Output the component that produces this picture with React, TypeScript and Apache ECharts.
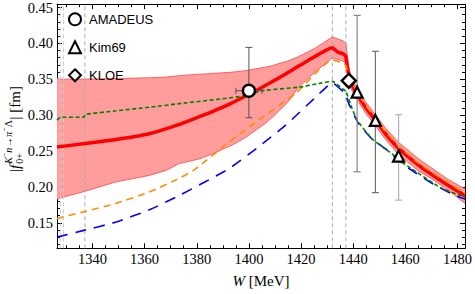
import React, { useEffect, useRef } from 'react';
import * as echarts from 'echarts';

// ---------- axis ranges & ticks ----------
const X_MIN = 1326.4;
const X_MAX = 1482.9;
const Y_MIN = 0.1144;
const Y_MAX = 0.4547;
const xMajor = [1340, 1360, 1380, 1400, 1420, 1440, 1460, 1480];
const xMinor = [1330, 1335, 1345, 1350, 1355, 1365, 1370, 1375, 1385, 1390, 1395, 1405, 1410, 1415, 1425, 1430, 1435, 1445, 1450, 1455, 1465, 1470, 1475];
const yMajor = [0.15, 0.2, 0.25, 0.3, 0.35, 0.4, 0.45];
const yMinor = [0.12, 0.13, 0.14, 0.16, 0.17, 0.18, 0.19, 0.21, 0.22, 0.23, 0.24, 0.26, 0.27, 0.28, 0.29, 0.31, 0.32, 0.33, 0.34, 0.36, 0.37, 0.38, 0.39, 0.41, 0.42, 0.43, 0.44];
const yLabels = ['0.15', '0.20', '0.25', '0.30', '0.35', '0.40', '0.45'];
const xLabels = ['1340', '1360', '1380', '1400', '1420', '1440', '1460', '1480'];

// thresholds (vertical dashed lines)
const thresholds = [1327.7, 1328.9, 1337.1, 1432.0, 1437.2];
const thresholdColors = ['#cccccc', '#cccccc', '#aaaaaa', '#aaaaaa', '#aaaaaa'];

// ---------- curves ----------
const redW = [1326.4, 1336.3, 1349.1, 1361.8, 1373.3, 1381, 1386, 1393, 1400, 1407.7, 1416.5, 1424, 1432, 1434, 1436.4, 1437.2, 1437.7, 1438.3, 1439, 1441.4, 1444.7, 1448.6, 1452.4, 1457.4, 1465.1, 1474.6, 1482.9];
const redV = [0.2556, 0.26, 0.266, 0.274, 0.287, 0.298, 0.305, 0.316, 0.329, 0.344, 0.3625, 0.379, 0.394, 0.388, 0.385, 0.381, 0.367, 0.357, 0.346, 0.33, 0.311, 0.2926, 0.274, 0.2538, 0.2301, 0.2065, 0.1878];

const bandW = [1326.4, 1328, 1336.3, 1349.1, 1361.8, 1368.2, 1373.3, 1381, 1386, 1394, 1398.8, 1406.5, 1409, 1415.4, 1418.7, 1425.3, 1432, 1436.4, 1437.2, 1438.3, 1439, 1441.4, 1444.7, 1448.6, 1452.4, 1457.4, 1465.1, 1470.2, 1476.6, 1482.9];
const bandHi = [0.351, 0.35, 0.35, 0.351, 0.352, 0.353, 0.355, 0.357, 0.358, 0.36, 0.362, 0.367, 0.369, 0.376, 0.381, 0.393, 0.409, 0.403, 0.4, 0.368, 0.355, 0.338, 0.319, 0.3, 0.282, 0.262, 0.239, 0.226, 0.21, 0.197];
const bandLo = [0.183, 0.185, 0.193, 0.207, 0.216, 0.223, 0.2325, 0.239, 0.246, 0.259, 0.269, 0.289, 0.297, 0.32, 0.337, 0.36, 0.38, 0.375, 0.371, 0.348, 0.338, 0.322, 0.303, 0.285, 0.266, 0.245, 0.222, 0.211, 0.195, 0.177];

const orangeW = [1326.4, 1336.3, 1349.1, 1361.8, 1373.3, 1379.7, 1392.4, 1405.2, 1417.9, 1432, 1436.4, 1437.2, 1438.3, 1441.4, 1444.7, 1448.6, 1452.4, 1457.4, 1465.1, 1474.6, 1482.9];
const orangeV = [0.156, 0.165, 0.177, 0.193, 0.212, 0.2255, 0.2625, 0.297, 0.33, 0.377, 0.372, 0.369, 0.355, 0.333, 0.314, 0.296, 0.277, 0.257, 0.233, 0.21, 0.191];

const blueW = [1326.4, 1336.3, 1349.1, 1361.8, 1373.3, 1392.4, 1405.2, 1414.1, 1425.6, 1432, 1436.4, 1437.2, 1438.3, 1442.1, 1447.2, 1452.4, 1457.4, 1461.3, 1470.2, 1479.1, 1482.9];
const blueV = [0.13, 0.139, 0.151, 0.168, 0.188, 0.2255, 0.26, 0.286, 0.325, 0.345, 0.332, 0.328, 0.316, 0.288, 0.267, 0.253, 0.237, 0.226, 0.205, 0.188, 0.183];

const greenW = [1326.4, 1327.8, 1336.6, 1337.3, 1349.1, 1361.8, 1373.3, 1398.8, 1405, 1419.2, 1426.8, 1432, 1435.8, 1437.2, 1439.6, 1441.5, 1447.2, 1454.9, 1458.7, 1461.3, 1473.9, 1482.9];
const greenV = [0.293, 0.297, 0.297, 0.301, 0.306, 0.311, 0.316, 0.327, 0.334, 0.339, 0.344, 0.347, 0.337, 0.333, 0.309, 0.293, 0.267, 0.246, 0.234, 0.228, 0.198, 0.186];

// ---------- data points ----------
// [W, value, low, high, Wlow, Whigh]
const amadeus = [[1400, 0.334, 0.2964, 0.3944, 1395, 1405]];
// [W, value, low, high]
const kim69 = [
  [1441.5, 0.332, 0.221, 0.439],
  [1448.5, 0.2926, 0.192, 0.389],
  [1457.4, 0.243, 0.1815, 0.3006],
];
const kimBarColors = ['#858585', '#707070', '#b0b0b0'];
const kloe = [[1438.3, 0.348]];

const SERIF = '"Liberation Serif", "Times New Roman", serif';
const SANS = '"Liberation Sans", Arial, sans-serif';

const pairs = (w: number[], v: number[]) => w.map((x, i) => [x, v[i]]);

function measure(text: string, size: number, italic = false) {
  const c = document.createElement('canvas').getContext('2d');
  if (!c) return text.length * size * 0.5;
  c.font = `${italic ? 'italic ' : ''}${size}px ${SERIF}`;
  return c.measureText(text).width;
}

function yTitle() {
  const M = 15;
  const S = 10;
  const items: any[] = [];
  let x = 0;
  const add = (t: string, size: number, italic: boolean, y: number, xx: number) => {
    items.push({ t, size, italic, y, x: xx });
    return measure(t, size, italic);
  };
  x += add('|', M, false, 0, x);
  x += add('f', M, true, 0, x) + 1;
  const s0 = x;
  let sx = s0;
  sx += add('K', S, true, -6.5, sx);
  sx += add('−', 8, false, -10, sx);
  sx += add('n', S, true, -6.5, sx) + 0.5;
  sx += add('→', S, false, -6.5, sx) + 0.5;
  sx += add('π', S, true, -6.5, sx);
  sx += add('−', 8, false, -10, sx);
  sx += add('Λ', S, false, -6.5, sx);
  let bx = s0;
  bx += add('0+', S, false, 5, bx);
  x = Math.max(sx, bx) + 0.5;
  x += add('|', M, false, 0, x);
  x += add(' [fm]', M, false, 0, x);
  const half = x / 2;
  return {
    type: 'group',
    x: 14.5,
    y: 129,
    rotation: Math.PI / 2,
    children: items.map((it) => ({
      type: 'text',
      x: it.x - half,
      y: it.y,
      style: {
        text: it.t,
        fontSize: it.size,
        fontFamily: SERIF,
        fontStyle: it.italic ? 'italic' : 'normal',
        fill: '#000',
        align: 'left',
        verticalAlign: 'middle',
        textAlign: 'left',
        textVerticalAlign: 'middle',
      },
    })),
  };
}

export default function App() {
  const ref = useRef<HTMLDivElement>(null);
  useEffect(() => {
    if (!ref.current) return;
    const chart = echarts.init(ref.current, undefined, { renderer: 'svg' });

    const xBase = { type: 'value', min: X_MIN, max: X_MAX, splitLine: { show: false }, gridIndex: 0 };
    const yBase = { type: 'value', min: Y_MIN, max: Y_MAX, splitLine: { show: false }, gridIndex: 0 };
    const lineBlack = { show: true, lineStyle: { color: '#000', width: 1 } };

    const option: any = {
      animation: false,
      backgroundColor: '#fff',
      grid: { left: 57, right: 8.3, top: 3.3, bottom: 45.7, containLabel: false },
      legend: {
        orient: 'vertical',
        left: 68,
        top: 12.3,
        padding: 0,
        itemWidth: 12,
        itemHeight: 12,
        itemGap: 14,
        selectedMode: false,
        textStyle: { fontFamily: SANS, fontSize: 13, color: '#000', padding: [0, 0, 0, 3] },
        data: [
          { name: 'AMADEUS', icon: 'circle' },
          { name: 'Kim69', icon: 'triangle' },
          { name: 'KLOE', icon: 'diamond' },
        ],
      },
      xAxis: [
        {
          ...xBase,
          position: 'bottom',
          axisLine: lineBlack,
          axisTick: { show: true, inside: true, length: 5, customValues: xMajor, lineStyle: { color: '#000' } },
          axisLabel: {
            show: true,
            customValues: xMajor,
            margin: 3,
            fontFamily: SERIF,
            fontSize: 14.5,
            color: '#000',
            formatter: (v: number) => xLabels[xMajor.findIndex((m) => Math.abs(m - v) < 1e-6)] ?? String(v),
          },
          name: '{i|W} [MeV]',
          nameLocation: 'middle',
          nameGap: 25,
          nameTextStyle: {
            fontFamily: SERIF,
            fontSize: 15,
            color: '#000',
            rich: { i: { fontFamily: SERIF, fontSize: 15, fontStyle: 'italic', color: '#000' } },
          },
        },
        {
          ...xBase,
          position: 'bottom',
          axisLine: { show: false },
          axisTick: { show: true, inside: true, length: 3, customValues: xMinor, lineStyle: { color: '#000' } },
          axisLabel: { show: false, customValues: xMinor },
        },
        {
          ...xBase,
          position: 'top',
          axisLine: lineBlack,
          axisTick: { show: true, inside: true, length: 5, customValues: xMajor, lineStyle: { color: '#000' } },
          axisLabel: { show: false, customValues: xMajor },
        },
        {
          ...xBase,
          position: 'top',
          axisLine: { show: false },
          axisTick: { show: true, inside: true, length: 3, customValues: xMinor, lineStyle: { color: '#000' } },
          axisLabel: { show: false, customValues: xMinor },
        },
      ],
      yAxis: [
        {
          ...yBase,
          position: 'left',
          axisLine: lineBlack,
          axisTick: { show: true, inside: true, length: 5, customValues: yMajor, lineStyle: { color: '#000' } },
          axisLabel: {
            show: true,
            customValues: yMajor,
            margin: 4,
            fontFamily: SERIF,
            fontSize: 14.5,
            color: '#000',
            formatter: (v: number) => yLabels[yMajor.findIndex((m) => Math.abs(m - v) < 1e-6)] ?? String(v),
          },
        },
        {
          ...yBase,
          position: 'left',
          axisLine: { show: false },
          axisTick: { show: true, inside: true, length: 3, customValues: yMinor, lineStyle: { color: '#000' } },
          axisLabel: { show: false, customValues: yMinor },
        },
        {
          ...yBase,
          position: 'right',
          axisLine: lineBlack,
          axisTick: { show: true, inside: true, length: 5, customValues: yMajor, lineStyle: { color: '#000' } },
          axisLabel: { show: false, customValues: yMajor },
        },
        {
          ...yBase,
          position: 'right',
          axisLine: { show: false },
          axisTick: { show: true, inside: true, length: 3, customValues: yMinor, lineStyle: { color: '#000' } },
          axisLabel: { show: false, customValues: yMinor },
        },
      ],
      graphic: [yTitle()],
      series: [
        {
          type: 'custom',
          name: 'band',
          z: 1,
          clip: true,
          data: bandW.map((w, i) => [w, bandLo[i], bandHi[i]]),
          encode: { x: 0, y: [1, 2] },
          renderItem: (params: any, api: any) => {
            if (params.dataIndex !== 0) return null;
            const up = bandW.map((w, i) => api.coord([w, bandHi[i]]));
            const lo = bandW.map((w, i) => api.coord([w, bandLo[i]]));
            return {
              type: 'group',
              children: [
                { type: 'polygon', shape: { points: up.concat(lo.slice().reverse()) }, style: { fill: '#ff9c9c', stroke: 'none' } },
                { type: 'polyline', shape: { points: up }, style: { stroke: '#ff6060', lineWidth: 1, fill: 'none' } },
                { type: 'polyline', shape: { points: lo }, style: { stroke: '#ff6060', lineWidth: 1, fill: 'none' } },
              ],
            };
          },
        },
        {
          type: 'custom',
          name: 'thresholds',
          z: 2,
          data: thresholds.map((w) => [w]),
          encode: { x: 0 },
          renderItem: (params: any, api: any) => {
            const w = api.value(0);
            const a = api.coord([w, Y_MIN]);
            const b = api.coord([w, Y_MAX]);
            return {
              type: 'line',
              shape: { x1: a[0], y1: a[1], x2: b[0], y2: b[1] },
              style: { stroke: thresholdColors[params.dataIndex], lineWidth: 1, lineDash: [4, 3] },
            };
          },
        },
        {
          type: 'line',
          name: 'red',
          z: 3,
          data: pairs(redW, redV),
          showSymbol: false,
          symbol: 'none',
          smooth: 0.15,
          lineStyle: { color: '#ff0000', width: 3.5 },
        },
        {
          type: 'line',
          name: 'orange',
          z: 4,
          data: pairs(orangeW, orangeV),
          showSymbol: false,
          symbol: 'none',
          smooth: 0.15,
          lineStyle: { color: '#ff8c00', width: 1.6, type: [7, 5] },
        },
        {
          type: 'line',
          name: 'blue',
          z: 4,
          data: pairs(blueW, blueV),
          showSymbol: false,
          symbol: 'none',
          smooth: 0.15,
          lineStyle: { color: '#0000ff', width: 1.6, type: [11, 8] },
        },
        {
          type: 'line',
          name: 'green',
          z: 4,
          data: pairs(greenW, greenV),
          showSymbol: false,
          symbol: 'none',
          smooth: 0.15,
          lineStyle: { color: '#008000', width: 1.6, type: [4, 2.5] },
        },
        {
          type: 'custom',
          name: 'amadeusErr',
          z: 5,
          data: amadeus,
          renderItem: (params: any, api: any) => {
            const c = api.coord([api.value(0), api.value(1)]);
            const lo = api.coord([api.value(0), api.value(2)]);
            const hi = api.coord([api.value(0), api.value(3)]);
            const l = api.coord([api.value(4), api.value(1)]);
            const r = api.coord([api.value(5), api.value(1)]);
            const st = { stroke: '#555', lineWidth: 1 };
            return {
              type: 'group',
              children: [
                { type: 'line', shape: { x1: lo[0], y1: lo[1], x2: hi[0], y2: hi[1] }, style: st },
                { type: 'line', shape: { x1: lo[0] - 3.5, y1: lo[1], x2: lo[0] + 3.5, y2: lo[1] }, style: st },
                { type: 'line', shape: { x1: hi[0] - 3.5, y1: hi[1], x2: hi[0] + 3.5, y2: hi[1] }, style: st },
                { type: 'line', shape: { x1: l[0], y1: c[1], x2: r[0], y2: c[1] }, style: st },
                { type: 'line', shape: { x1: l[0], y1: c[1] - 3, x2: l[0], y2: c[1] + 3 }, style: st },
                { type: 'line', shape: { x1: r[0], y1: c[1] - 3, x2: r[0], y2: c[1] + 3 }, style: st },
              ],
            };
          },
        },
        {
          type: 'custom',
          name: 'kimErr',
          z: 5,
          data: kim69,
          renderItem: (params: any, api: any) => {
            const lo = api.coord([api.value(0), api.value(2)]);
            const hi = api.coord([api.value(0), api.value(3)]);
            const st = { stroke: kimBarColors[params.dataIndex], lineWidth: 1.2 };
            return {
              type: 'group',
              children: [
                { type: 'line', shape: { x1: lo[0], y1: lo[1], x2: hi[0], y2: hi[1] }, style: st },
                { type: 'line', shape: { x1: lo[0] - 3.5, y1: lo[1], x2: lo[0] + 3.5, y2: lo[1] }, style: st },
                { type: 'line', shape: { x1: hi[0] - 3.5, y1: hi[1], x2: hi[0] + 3.5, y2: hi[1] }, style: st },
              ],
            };
          },
        },
        {
          type: 'scatter',
          name: 'AMADEUS',
          z: 6,
          symbol: 'circle',
          symbolSize: 12,
          data: amadeus.map((d) => [d[0], d[1]]),
          itemStyle: { color: '#fff', borderColor: '#000', borderWidth: 2.4, opacity: 1 },
        },
        {
          type: 'scatter',
          name: 'Kim69',
          z: 6,
          symbol: 'triangle',
          symbolSize: 11,
          data: kim69.map((d) => [d[0], d[1]]),
          itemStyle: { color: '#fff', borderColor: '#000', borderWidth: 2.2, opacity: 1 },
        },
        {
          type: 'scatter',
          name: 'KLOE',
          z: 6,
          symbol: 'diamond',
          symbolSize: 14,
          data: kloe,
          itemStyle: { color: '#fff', borderColor: '#000', borderWidth: 2.4, opacity: 1 },
        },
      ],
    };
    chart.setOption(option);
    return () => chart.dispose();
  }, []);
  return <div ref={ref} style={{ width: 475, height: 294, position: 'absolute', left: 0, top: 0 }} />;
}
